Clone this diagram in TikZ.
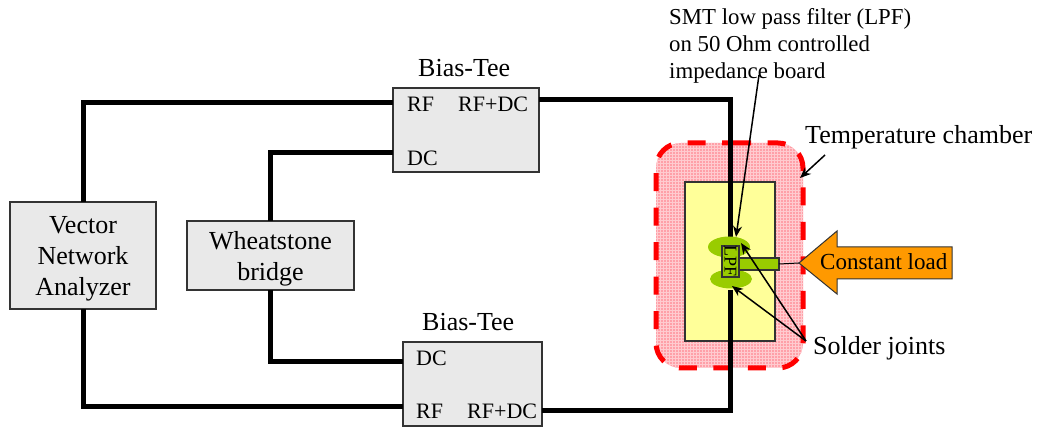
\documentclass[tikz,border=0pt]{standalone}
\usepackage{fontspec}
\setmainfont{Liberation Serif}
\usetikzlibrary{arrows.meta,patterns}

\definecolor{boxgray}{HTML}{E9E9E9}
\definecolor{boardyellow}{HTML}{FFFF99}
\definecolor{chamberpink}{HTML}{FFA0A8}
\definecolor{solidergreen}{HTML}{99CC00}
\definecolor{loadorange}{HTML}{FF9900}

\begin{document}
\begin{tikzpicture}[
        x=1pt, y=-1pt,
        box/.style={draw=black!80, fill=boxgray, line width=1.2pt, outer sep=0pt, inner sep=0pt},
        boxname/.style={inner sep=0pt, align=center, yshift=-3.5pt, font=\fontsize{26}{31}\selectfont},
        title/.style={anchor=base west, inner sep=0pt, font=\fontsize{26}{30}\selectfont},
        port/.style={anchor=base west, inner sep=0pt, font=\fontsize{22}{26}\selectfont},
        wire/.style={black, line width=5pt, line join=miter},
        pointer/.style={black, line width=1.5pt, -{Stealth[length=11pt,width=9pt]}},
    ]
    \useasboundingbox (0,0) rectangle (1039,427);

    % chamber and board
    \path[fill=chamberpink, rounded corners=25pt] (656,143) rectangle (803,368);
    \path[pattern=grid, pattern color=chamberpink!55!white, rounded corners=25pt] (656,143) rectangle (803,368);
    \draw[red, line width=5pt, rounded corners=25pt, dash pattern=on 18pt off 16.5pt]
        (708,143) -| (803,368) -| (656,143) -- cycle;
    \node[draw=black!80, fill=boardyellow, line width=1.2pt, outer sep=0pt, inner sep=0pt,
        minimum width=90pt, minimum height=159pt] (board) at (730,261.5) {};

    % instruments
    \node[box, minimum width=146pt, minimum height=107pt] (vna) at (83,255.5) {};
    \node[boxname] (vnaname) at (vna.center) {Vector\\Network\\Analyzer};
    \node[box, minimum width=167pt, minimum height=69pt] (bridge) at (270.5,255.5) {};
    \node[boxname] (bridgename) at (bridge.center) {Wheatstone\\bridge};
    \node[box, minimum width=146pt, minimum height=84pt] (teeA) at (466,130) {};
    \node[box, minimum width=139pt, minimum height=84pt] (teeB) at (472.5,384) {};

    \node[title] (teeAname) at (418,77) {Bias-Tee};
    \node[title] (teeBname) at (422,331) {Bias-Tee};
    \node[port] (rfA) at (407,112) {RF};
    \node[port] (mixA) at (458,112) {RF+DC};
    \node[port] (dcA) at (407,166) {DC};
    \node[port] (dcB) at (416,366) {DC};
    \node[port] (rfB) at (416,419) {RF};
    \node[port] (mixB) at (467,419) {RF+DC};

    % wiring
    \coordinate (dutTop) at (730,240);
    \coordinate (dutBot) at (730,290);
    \draw[wire] (vna.north) |- (teeA.west |- 0,103);
    \draw[wire] (bridge.north) |- (teeA.west |- 0,153);
    \draw[wire] (vna.south) |- (teeB.west |- 0,407);
    \draw[wire] (bridge.south) |- (teeB.west |- 0,362);
    \draw[wire] (teeA.east |- 0,100) -| (dutTop);
    \draw[wire] (teeB.east |- 0,411) -| (dutBot);

    % filter
    \fill[solidergreen] (729,247) ellipse (21pt and 10.5pt);
    \fill[solidergreen] (731,279) ellipse (21pt and 9.5pt);
    \node[draw=black!80, fill=solidergreen, line width=1.2pt, outer sep=0pt, inner sep=0pt,
        minimum width=40pt, minimum height=12pt] (stem) at (759,264) {};
    \node[draw=black!80, fill=solidergreen, line width=1.2pt, outer sep=0pt, inner sep=0pt,
        minimum width=17pt, minimum height=31pt] (lpf) at (730.5,261.5) {};
    \node[rotate=-90, inner sep=0pt, font=\fontsize{18}{20}\selectfont] (lpfname) at (730.5,261.5) {LPF};

    % load
    \coordinate (loadtip) at (799,263);
    \draw[black!80, fill=loadorange, line width=1pt] (loadtip) -- (837,231) -- (837,247) -- (952,247)
        -- (952,279) -- (837,279) -- (837,294) -- cycle;
    \node[inner sep=0pt, anchor=base west, font=\fontsize{23}{27}\selectfont] (load) at (820,270) {Constant load};
    \draw[black, line width=1pt] (stem.east) -- (loadtip);

    % callouts
    \node[inner sep=0pt, anchor=north west, align=left, font=\fontsize{22.8}{27}\selectfont] (smt) at (669,8)
        {SMT low pass filter (LPF)\\on 50 Ohm controlled\\impedance board};
    \node[title] (chamber) at (805,144) {Temperature chamber};
    \node[title] (solder) at (813,355) {Solder joints};
    \coordinate (smtfoot) at (759,75);
    \coordinate (chamberfoot) at (825,155);
    \coordinate (solderfoot) at (806,341);
    \draw[pointer] (smtfoot) -- (736,237);
    \draw[pointer] (chamberfoot) -- (800,178);
    \draw[pointer] (solderfoot) -- (741,243);
    \draw[pointer] (solderfoot) -- (732,286);
\end{tikzpicture}
\end{document}
